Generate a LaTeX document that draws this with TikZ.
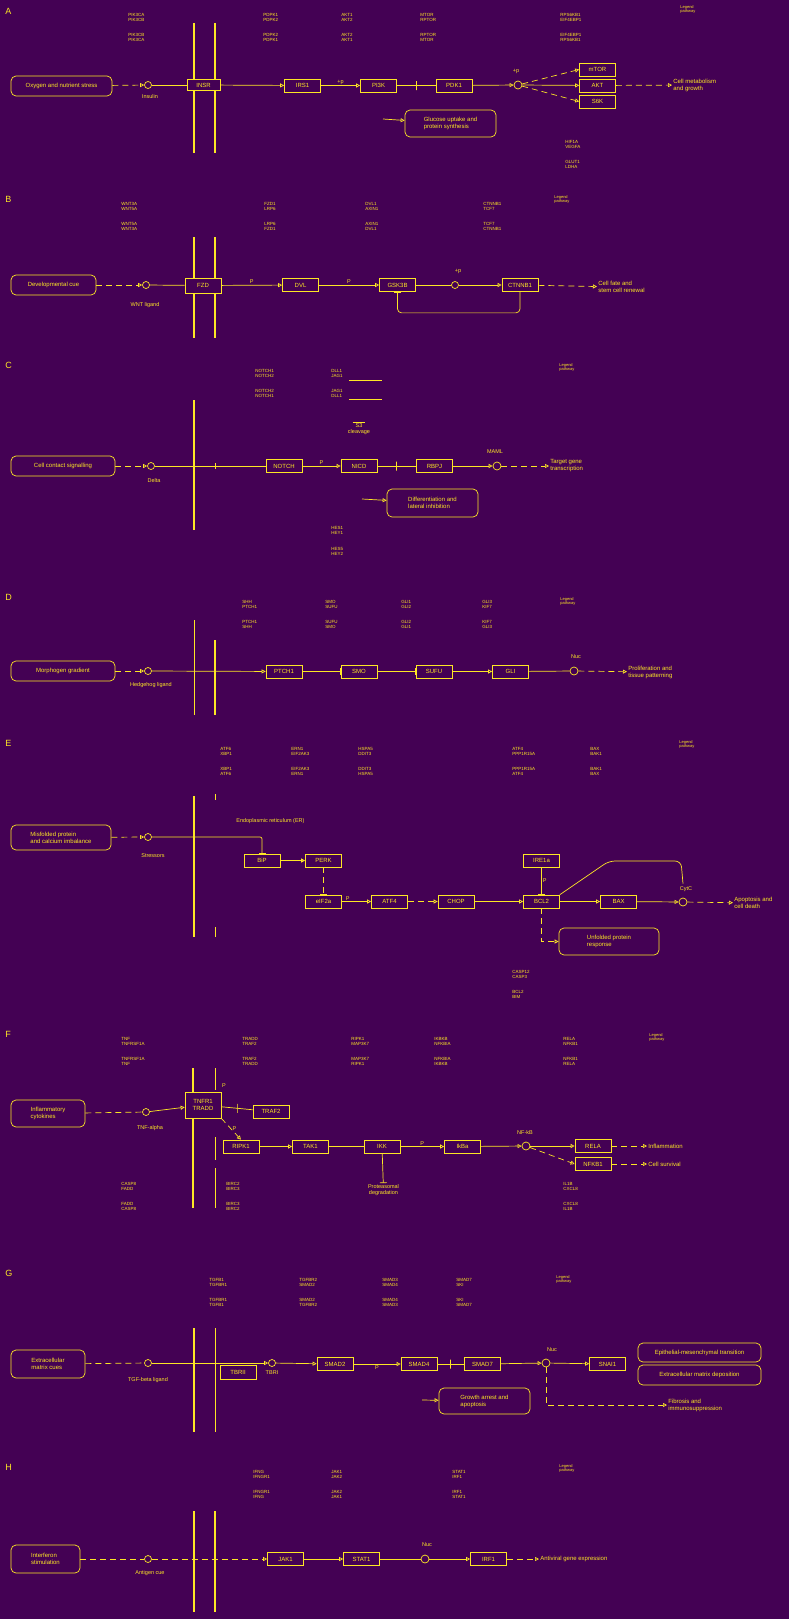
\documentclass[tikz,border=0pt]{standalone}
\usepackage{fontspec}
\setmainfont{Liberation Sans}
\usetikzlibrary{arrows.meta,calc}
\definecolor{bg}{HTML}{440154}
\definecolor{fg}{HTML}{FDE725}
\begin{document}
\begin{tikzpicture}[x=1pt,y=-1pt,color=fg,line width=0.7pt,
  every node/.style={text=fg,font=\fontsize{6}{7}\selectfont},
  stim/.style={draw,rounded corners=5pt,align=left,inner sep=2pt},
  gb/.style={draw,minimum width=36pt,minimum height=13pt,inner sep=1pt},
  rec/.style={draw,fill=bg,minimum width=36pt,minimum height=13pt,inner sep=1pt,align=center},
  lig/.style={draw,circle,inner sep=0pt,minimum size=7pt},
  act/.style={-{Triangle[open,length=4pt,width=4pt]}},
  inh/.style={-{Bar[width=7pt]}},
  dsh/.style={dash pattern=on 6pt off 4pt},
  mem/.style={line width=1.6pt},
  tickmark/.style={draw,inner sep=0pt,minimum width=0pt,minimum height=9pt},
  gene/.style={font=\fontsize{4.5}{5}\selectfont,align=left,anchor=north west,inner sep=0pt},
  tinytxt/.style={font=\fontsize{4}{4.5}\selectfont,align=left,anchor=north west,inner sep=0pt},
  lbl/.style={font=\fontsize{5.5}{6}\selectfont,inner sep=1pt},
  outtxt/.style={font=\fontsize{6}{7}\selectfont,align=left,anchor=west,inner sep=1pt},
  plab/.style={font=\fontsize{9}{9}\selectfont,anchor=north west,inner sep=0pt}]
\fill[bg] (0,0) rectangle (789,1619);
\useasboundingbox (0,0) rectangle (789,1619);

% ================= A =================
\node[plab] (labA) at (5,8) {A};
\node[tinytxt] (kA) at (680,5) {Legend\\pathway};
\foreach \gx/\ga/\gb in {128/PIK3CA/PIK3CB,263/PDPK1/PDPK2,341/AKT1/AKT2,420/MTOR/RPTOR,560/RPS6KB1/EIF4EBP1}{
  \node[gene] at (\gx,13) {\ga\\\gb};
  \node[gene] at (\gx,33) {\gb\\\ga};}
\node[gene] (gA1) at (565,140) {HIF1A\\VEGFA};
\node[gene] (gA2) at (565,160) {GLUT1\\LDHA};
\node[stim,minimum width=101pt,minimum height=20pt] (a0) at (61.5,86) {Oxygen and nutrient stress};
\node[lig] (a1) at (148,85) {};
\node[lbl] (a1l) at (150,97) {Insulin};
\draw[mem] (194,23) -- (194,153);
\draw[mem] (215,23) -- (215,153);
\node[rec,minimum width=33pt,minimum height=11pt] (a2) at (203.5,85) {INSR};
\node[gb] (a3) at (302.5,85.5) {IRS1};
\node[gb] (a4) at (378.5,85.5) {PI3K};
\node[gb] (a5) at (454,85.5) {PDK1};
\node[lig,minimum size=8pt] (a6) at (518,85) {};
\node[lbl] (a6l) at (516,71) {+p};
\node[gb,minimum height=13pt] (a7) at (597.5,69.5) {mTOR};
\node[gb] (a8) at (597.5,85.5) {AKT};
\node[gb] (a9) at (597.5,101.5) {S6K};
\node[outtxt] (a10) at (672,85) {Cell metabolism\\and growth};
\node[stim,minimum width=91pt,minimum height=27pt] (a11) at (450.5,123.5) {Glucose uptake and\\protein synthesis};
\coordinate (a12) at (383,119);
\draw[dsh,act] (a0) -- (a1);
\draw (a1) -- (a2);
\draw[act] (a2) -- (a3);
\draw[act] (a3) -- node[lbl,above]{+p} (a4);
\draw (a4) -- node[tickmark]{} (a5);
\draw[act] (a5) -- (a6);
\draw[act,dsh] (a6) -- (a7.west);
\draw[act] (a6) -- (a8);
\draw[act,dsh] (a6) -- (a9.west);
\draw[act,dsh] (a8) -- (a10);
\draw[act] (a12) -- (a11);

% ================= B =================
\node[plab] (labB) at (5,196) {B};
\node[tinytxt] (kB) at (554,195) {Legend\\pathway};
\foreach \gx/\ga/\gb in {121/WNT3A/WNT5A,264/FZD1/LRP6,365/DVL1/AXIN1,483/CTNNB1/TCF7}{
  \node[gene] at (\gx,202) {\ga\\\gb};
  \node[gene] at (\gx,222) {\gb\\\ga};}
\node[stim,minimum width=85pt,minimum height=20pt] (b0) at (53.5,285) {Developmental cue};
\node[lig] (b1) at (146,285) {};
\node[lbl] (b1l) at (145,305) {WNT ligand};
\draw[mem] (194,237) -- (194,338);
\draw[mem] (215,237) -- (215,338);
\node[rec,minimum height=15pt] (b2) at (203,285.5) {FZD};
\node[gb] (b3) at (300.5,285) {DVL};
\node[gb] (b4) at (397.5,285) {GSK3B};
\node[lig] (b5) at (455,285) {};
\node[lbl] (b5l) at (458,271) {+p};
\node[gb] (b6) at (520,285) {CTNNB1};
\node[outtxt] (b7) at (597,287) {Cell fate and\\stem cell renewal};
\draw[dsh,act] (b0) -- (b1);
\draw (b1) -- (b2);
\draw[act] (b2) -- node[lbl,above]{P} (b3);
\draw[act] (b3) -- node[lbl,above]{P} (b4);
\draw (b4) -- (b5);
\draw[act] (b5) -- (b6);
\draw[inh,rounded corners=4pt] (b6.south) -- ++(0,21) -| (b4.south);
\draw[act,dsh] (b6) -- (b7);

% ================= C =================
\node[plab] (labC) at (5,362) {C};
\node[tinytxt] (kC) at (559,363) {Legend\\pathway};
\foreach \gx/\ga/\gb in {255/NOTCH1/NOTCH2,331/DLL1/JAG1}{
  \node[gene] at (\gx,369) {\ga\\\gb};
  \node[gene] at (\gx,389) {\gb\\\ga};}
\draw (349,380) -- (382,380) (349,399) -- (382,399);
\node[gene] (gC1) at (331,526) {HES1\\HEY1};
\node[gene] (gC2) at (331,547) {HES5\\HEY2};
\node[stim,minimum width=104pt,minimum height=20pt] (c0) at (63,466) {Cell contact signalling};
\node[lig] (c1) at (151,466) {};
\node[lbl] (c1l) at (154,481) {Delta};
\draw[line width=2.5pt] (194,400) -- (194,530);
\draw (215,463) -- (215,469);
\node[gb] (c2) at (284,466) {NOTCH};
\node[gb] (c3) at (359,466) {NICD};
\node[lbl,align=center] (c3t) at (359,428) {$\overline{\mbox{\ \ S3\ \ }}$\\cleavage};
\node[gb] (c4) at (434.5,466) {RBPJ};
\node[lig,minimum size=8pt] (c5) at (497,466) {};
\node[lbl] (c5l) at (495,452) {MAML};
\node[outtxt] (c6) at (549,466) {Target gene\\transcription};
\node[stim,minimum width=91pt,minimum height=28pt] (c7) at (432.5,503) {Differentiation and\\lateral inhibition};
\coordinate (c8) at (362,499);
\draw[dsh,act] (c0) -- (c1);
\draw (c1) -- (c2);
\draw[act] (c2) -- node[lbl,above]{P} (c3);
\draw (c3) -- node[tickmark]{} (c4);
\draw[act] (c4) -- (c5);
\draw[act,dsh] (c5) -- (c6);
\draw[act] (c8) -- (c7);

% ================= D =================
\node[plab] (labD) at (5,594) {D};
\node[tinytxt] (kD) at (560,597) {Legend\\pathway};
\foreach \gx/\ga/\gb in {242/SHH/PTCH1,325/SMO/SUFU,401/GLI1/GLI2,482/GLI3/KIF7}{
  \node[gene] at (\gx,600) {\ga\\\gb};
  \node[gene] at (\gx,620) {\gb\\\ga};}
\node[stim,minimum width=104pt,minimum height=20pt] (d0) at (63,671) {Morphogen gradient};
\node[lig] (d1) at (148,671) {};
\node[lbl] (d1l) at (151,685) {Hedgehog ligand};
\draw (194,620) -- (194,715);
\draw[mem] (215,640) -- (215,715);
\node[gb] (d2) at (284,671.5) {PTCH1};
\node[gb] (d3) at (359,671.5) {SMO};
\node[gb] (d4) at (434,671.5) {SUFU};
\node[gb] (d5) at (510.5,671.5) {GLI};
\node[lig,minimum size=8pt] (d6) at (574,671) {};
\node[lbl] (d6l) at (576,657) {Nuc};
\node[outtxt] (d7) at (627,672) {Proliferation and\\tissue patterning};
\draw[dsh,act] (d0) -- (d1);
\draw[act] (d1) -- (d2);
\draw[inh] (d2) -- (d3);
\draw[inh] (d3) -- (d4);
\draw[act] (d4) -- (d5);
\draw (d5) -- (d6);
\draw[act,dsh] (d6) -- (d7);

% ================= E =================
\node[plab] (labE) at (5,740) {E};
\node[tinytxt] (kE) at (679,740) {Legend\\pathway};
\foreach \gx/\ga/\gb in {220/ATF6/XBP1,291/ERN1/EIF2AK3,358/HSPA5/DDIT3,512/ATF4/PPP1R15A,590/BAX/BAK1}{
  \node[gene] at (\gx,747) {\ga\\\gb};
  \node[gene] at (\gx,767) {\gb\\\ga};}
\node[gene] (gE1) at (512,970) {CASP12\\CASP3};
\node[gene] (gE2) at (512,990) {BCL2\\BIM};
\node[stim,minimum width=100pt,minimum height=25pt] (e0) at (61,837.5) {Misfolded protein\\and calcium imbalance};
\node[lig] (e1) at (148,837) {};
\node[lbl] (e1l) at (153,856) {Stressors};
\draw[line width=0.7pt,double=fg,double distance=0.6pt] (194,796) -- (194,937);
\draw (215,794) -- (215,800) (215,927) -- (215,937);
\node[lbl,anchor=west] (eER) at (235,821) {Endoplasmic reticulum (ER)};
\node[gb] (e2) at (262,860.5) {BiP};
\node[gb] (e3) at (323.5,860.5) {PERK};
\node[gb] (e4) at (323.5,901.5) {eIF2a};
\node[gb] (e5) at (389.5,901.5) {ATF4};
\node[gb] (e6) at (456,901.5) {CHOP};
\node[gb] (e7) at (541.5,901.5) {BCL2};
\node[gb] (e8) at (541.5,860.5) {IRE1a};
\node[gb] (e9) at (618.5,901.5) {BAX};
\node[lig,minimum size=8pt] (e10) at (683,902) {};
\node[lbl] (e10l) at (686,889) {CytC};
\node[outtxt] (e11) at (733,903) {Apoptosis and\\cell death};
\node[stim,minimum width=100pt,minimum height=27pt] (e12) at (609,941.5) {Unfolded protein\\response};
\draw[dsh,act] (e0) -- (e1);
\draw[inh,rounded corners=2pt] (e1) -- (262,837) -- (e2.north);
\draw[act,line width=1.4pt] (e2) -- (e3);
\draw[inh,dsh] (e3) -- (e4);
\draw[act] (e4) -- node[lbl,above,pos=0.2]{P} (e5);
\draw[act,dsh] (e5) -- (e6);
\draw[act] (e6) -- (e7);
\draw[inh] (e8) -- node[lbl,right]{P} (e7);
\draw[act] (e7) -- (e9);
\draw[act] (e9) -- (e10);
\draw[rounded corners=6pt] (e7.north east) -- (609,861) -- (681,861) -- ([yshift=14pt]e10.north);
\draw[act,dsh] (e10) -- (e11);
\draw[act,dsh] (e7.south) |- (e12.west);

% ================= F =================
\node[plab] (labF) at (5,1031) {F};
\node[tinytxt] (kF) at (649,1033) {Legend\\pathway};
\foreach \gx/\ga/\gb in {121/TNF/TNFRSF1A,242/TRADD/TRAF2,351/RIPK1/MAP3K7,434/IKBKB/NFKBIA,563/RELA/NFKB1}{
  \node[gene] at (\gx,1037) {\ga\\\gb};
  \node[gene] at (\gx,1057) {\gb\\\ga};}
\foreach \gx/\ga/\gb in {121/CASP8/FADD,226/BIRC2/BIRC3,563/IL1B/CXCL8}{
  \node[gene] at (\gx,1182) {\ga\\\gb};
  \node[gene] at (\gx,1202) {\gb\\\ga};}
\node[stim,minimum width=74pt,minimum height=27pt] (f0) at (48,1113.5) {Inflammatory\\cytokines};
\node[lig] (f1) at (146,1112) {};
\node[lbl] (f1l) at (150,1128) {TNF-alpha};
\draw[line width=0.7pt,double=fg,double distance=0.6pt] (193,1068) -- (193,1208);
\draw (215,1068) -- (215,1090) (215,1137) -- (215,1160) (215,1168) -- (215,1208);
\node[rec,minimum height=26pt] (f2) at (203,1105) {TNFR1\\TRADD};
\node[lbl] (f2l) at (224,1086) {P};
\node[gb] (f3) at (271,1111.5) {TRAF2};
\node[gb] (f4) at (241,1146.5) {RIPK1};
\node[gb] (f5) at (310.5,1146.5) {TAK1};
\node[gb] (f6) at (382,1146.5) {IKK};
\node[gb] (f7) at (462.5,1146.5) {IkBa};
\node[lbl,align=center] (f8) at (383.5,1190) {Proteasomal\\degradation};
\node[lig,minimum size=8pt] (f9) at (526,1146) {};
\node[lbl] (f9l) at (525,1132) {NF-kB};
\node[gb] (f10) at (593,1146) {RELA};
\node[gb] (f11) at (593,1164) {NFKB1};
\node[outtxt] (f12) at (647,1146) {Inflammation};
\node[outtxt] (f13) at (647,1164) {Cell survival};
\draw[dsh] (f0) -- (f1);
\draw[act] (f1) -- (f2);
\draw (f2) -- node[tickmark]{} (f3);
\draw[act,dsh] (f2.south east) -- node[lbl,right]{P} (f4.north);
\draw[act] (f4) -- (f5);
\draw (f5) -- (f6);
\draw[inh] (f6) -- (f8);
\draw[act] (f6) -- node[lbl,above]{P} (f7);
\draw[act] (f7) -- (f9);
\draw[act] (f9) -- (f10);
\draw[act,dsh] (f9) -- (f11.west);
\draw[act,dsh] (f10) -- (f12);
\draw[act,dsh] (f11) -- (f13);

% ================= G =================
\node[plab] (labG) at (5,1270) {G};
\node[tinytxt] (kG) at (556,1275) {Legend\\pathway};
\foreach \gx/\ga/\gb in {209/TGFB1/TGFBR1,299/TGFBR2/SMAD2,382/SMAD3/SMAD4,456/SMAD7/SKI}{
  \node[gene] at (\gx,1278) {\ga\\\gb};
  \node[gene] at (\gx,1298) {\gb\\\ga};}
\node[stim,minimum width=74pt,minimum height=28pt] (g0) at (48,1364) {Extracellular\\matrix cues};
\node[lig] (g1) at (148,1363) {};
\node[lbl] (g1l) at (148,1380) {TGF-beta ligand};
\draw[line width=2.2pt] (194,1328) -- (194,1432);
\draw (215,1328) -- (215,1432);
\node[gb,minimum height=14pt] (g2) at (238,1372) {TBRII};
\node[lig] (g3) at (272,1363) {};
\node[lbl] (g3l) at (272,1373) {TBRI};
\node[gb] (g4) at (335,1364) {SMAD2};
\node[gb] (g5) at (419,1364) {SMAD4};
\node[gb] (g6) at (482.5,1364) {SMAD7};
\node[lig,minimum size=8pt] (g7) at (546,1363) {};
\node[lbl] (g7l) at (552,1350) {Nuc};
\node[gb] (g8) at (607.5,1364) {SNAI1};
\node[stim,minimum width=123pt,minimum height=19pt] (g9) at (699.5,1352.5) {Epithelial-mesenchymal transition};
\node[stim,minimum width=123pt,minimum height=20pt] (g10) at (699.5,1375) {Extracellular matrix deposition};
\node[outtxt] (g11) at (667,1405) {Fibrosis and\\immunosuppression};
\node[stim,minimum width=91pt,minimum height=26pt] (g12) at (484.5,1401) {Growth arrest and\\apoptosis};
\coordinate (g13) at (422,1400);
\draw[dsh] (g0) -- (g1);
\draw[act] (g1) -- (g3);
\draw[act] (g3) -- (g4);
\draw[act] (g4) -- node[lbl,below]{P} (g5);
\draw (g5) -- node[tickmark]{} (g6);
\draw[act] (g6) -- (g7);
\draw[act] (g7) -- (g8);
\draw[act,dsh] (g7) |- (g11);
\draw[act] (g13) -- (g12);

% ================= H =================
\node[plab] (labH) at (5,1464) {H};
\node[tinytxt] (kH) at (559,1464) {Legend\\pathway};
\foreach \gx/\ga/\gb in {253/IFNG/IFNGR1,331/JAK1/JAK2,452/STAT1/IRF1}{
  \node[gene] at (\gx,1470) {\ga\\\gb};
  \node[gene] at (\gx,1490) {\gb\\\ga};}
\node[stim,minimum width=69pt,minimum height=28pt] (h0) at (45.5,1559) {Interferon\\stimulation};
\node[lig] (h1) at (148,1559) {};
\node[lbl] (h1l) at (150,1573) {Antigen cue};
\draw[mem] (194,1511) -- (194,1612);
\draw[mem] (215,1511) -- (215,1612);
\node[gb] (h2) at (285.5,1559) {JAK1};
\node[gb] (h3) at (361.5,1559) {STAT1};
\node[lig,minimum size=8pt] (h4) at (425,1559) {};
\node[lbl] (h4l) at (427,1545) {Nuc};
\node[gb] (h5) at (488.5,1559) {IRF1};
\node[outtxt] (h6) at (539,1559) {Antiviral gene expression};
\draw[dsh] (h0) -- (h1);
\draw[act,dsh] (h1) -- (h2);
\draw[act] (h2) -- (h3);
\draw (h3) -- (h4);
\draw[act] (h4) -- (h5);
\draw[act,dsh] (h5) -- (h6);
\end{tikzpicture}
\end{document}
